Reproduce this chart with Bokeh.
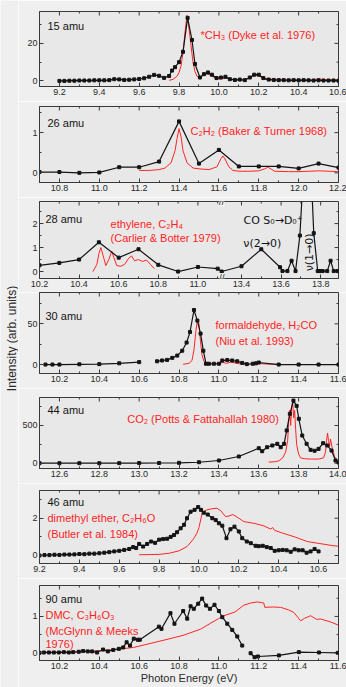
import math
from bokeh.plotting import figure
from bokeh.layouts import column, row
from bokeh.models import (Range1d, FixedTicker, CustomJSTickFormatter,
                          NumeralTickFormatter, Label)
from bokeh.core.properties import value
from bokeh.embed import file_html
from bokeh.resources import INLINE

FONT = "Liberation Sans"
RED = "#ff2424"
BLK = "#141414"
AX = "#3a3a3a"
BORDER_BG = "#efefef"
PLOT_BG = "#e8e8e8"

# ---------------- data ----------------
# 15 amu
P15_X = [9.2, 9.225, 9.25, 9.275, 9.3, 9.325, 9.35, 9.375, 9.4, 9.425,
         9.45, 9.475, 9.5, 9.525, 9.55, 9.575, 9.6, 9.625, 9.65, 9.675,
         9.7, 9.725, 9.75, 9.765, 9.78, 9.8, 9.82, 9.843, 9.865, 9.88,
         9.905, 9.925, 9.945, 9.965, 9.988, 10.01, 10.033, 10.055, 10.08, 10.105,
         10.13, 10.155, 10.177, 10.2, 10.223, 10.25, 10.275, 10.3, 10.325, 10.35,
         10.375, 10.4, 10.425, 10.45, 10.475, 10.5, 10.525, 10.55, 10.575, 10.6]
P15_Y = [0.0, 0.0, 0.1, 0.1, 0.2, 0.2, 0.2, 0.3, 0.3, 0.3,
         0.4, 0.9, 0.8, 0.5, 0.6, 0.8, 1.0, 1.4, 2.2, 3.2,
         2.7, 1.6, 2.6, 5.5, 7.3, 10.0, 15.5, 33.6, 21.8, 9.0,
         1.8, 3.6, 4.5, 3.3, 1.5, 1.8, 2.2, 0.9, 0.5, 0.7,
         0.4, 1.8, 3.3, 3.3, 1.5, 0.7, 0.5, 0.4, 0.4, 0.3,
         0.4, 0.3, 0.4, 0.3, 0.2, 0.3, 0.2, 0.2, 0.2, 0.1]
CH3_X = [9.75, 9.77, 9.79, 9.80, 9.81, 9.82, 9.83, 9.84, 9.85, 9.86,
         9.87, 9.88, 9.89, 9.90, 9.92, 9.94, 9.96, 9.98, 10.00, 10.04,
         10.08, 10.12, 10.15, 10.18, 10.20, 10.23, 10.30, 10.40, 10.47, 10.50,
         10.53, 10.60]
CH3_Y = [0.3, 0.8, 2.5, 4.5, 8, 15, 26, 35, 28, 19,
         10, 5, 2.5, 1.8, 2.8, 3.8, 3.0, 1.5, 1.0, 1.4,
         0.5, 0.5, 1.5, 3.0, 2.8, 0.8, 0.6, 0.3, 0.5, 1.1,
         0.6, 0.6]

# 26 amu
P26_X = [10.7, 10.8, 10.9, 11.0, 11.1, 11.2, 11.3, 11.4, 11.5, 11.6, 11.7, 11.8, 11.9, 12.0, 12.1, 12.2]
P26_Y = [0.02, 0.02, 0.0, 0.01, 0.14, 0.14, 0.28, 1.28, 0.23, 0.57, 0.16, 0.16, 0.16, 0.11, 0.23, 0.13]
C2H2_X = [11.2, 11.25, 11.3, 11.33, 11.36, 11.38, 11.39, 11.40, 11.41, 11.42,
          11.44, 11.47, 11.5, 11.55, 11.59, 11.61, 11.62, 11.63, 11.65, 11.67,
          11.7, 11.75, 11.8, 11.83, 11.845, 11.86, 11.88, 11.95, 12.0, 12.1, 12.2]
C2H2_Y = [0.06, 0.06, 0.08, 0.12, 0.25, 0.55, 0.85, 1.1, 0.9, 0.55,
          0.25, 0.12, 0.1, 0.08, 0.15, 0.35, 0.42, 0.35, 0.15, 0.06,
          0.04, 0.04, 0.05, 0.1, 0.14, 0.1, 0.04, 0.03, 0.03, 0.05, 0.03]

# 28 amu (broken energy axis)
P28_XA = [10.2, 10.3, 10.4, 10.5, 10.6, 10.7, 10.8, 10.9, 11.0, 11.1]
P28_YA = [0.26, 0.36, 0.5, 1.22, 0.58, 0.93, 0.28, 0.0, 0.19, 0.12]
P28_XB = [13.3, 13.4, 13.5, 13.595, 13.607, 13.632, 13.653, 13.673, 13.695, 13.715,
          13.735, 13.75, 13.765, 13.785, 13.795, 13.81, 13.833, 13.85, 13.866, 13.885]
P28_YB = [0.0, 0.22, 0.93, 0.18, 0.02, 0.02, 0.45, 0.02, 1.5, 4.5,
          6.0, 4.5, 1.6, 0.02, 0.02, 0.02, 0.02, 0.45, 0.02, 0.02]
C2H4_X = [10.47, 10.49, 10.5, 10.51, 10.52, 10.535, 10.55, 10.565, 10.575, 10.59,
          10.61, 10.63, 10.65, 10.665, 10.68, 10.7, 10.72, 10.74, 10.76, 10.78]
C2H4_Y = [0.0, 0.3, 0.75, 1.0, 0.7, 0.25, 0.5, 0.85, 0.6, 0.25,
          0.22, 0.3, 0.55, 0.65, 0.45, 0.5, 0.42, 0.48, 0.3, 0.12]
BREAK_LO, BREAK_HI = 11.12, 13.3

# 30 amu
P30_X1 = [10.13, 10.165, 10.2, 10.3, 10.4, 10.5, 10.6]
P30_Y1 = [0, 0, 0, 0.3, 0.5, 1.5, 3.0]
P30_X2 = [10.69, 10.715, 10.74, 10.766, 10.791, 10.816, 10.838, 10.855, 10.875, 10.892,
          10.908, 10.922, 10.935, 10.95, 10.975, 11.0, 11.017, 11.042, 11.067, 11.092,
          11.117, 11.14, 11.17, 11.186, 11.2, 11.3, 11.4, 11.5, 11.6]
P30_Y2 = [4, 5, 5.7, 8.2, 11, 17, 27, 40, 67, 54,
          38, 17, 1, 1, 1, 1, 5, 5.5, 5, 4,
          2, 0.5, 1, 1.5, 2.5, 0, 0, 0, 0]
H2CO_X = [10.82, 10.85, 10.865, 10.875, 10.885, 10.893, 10.9, 10.907, 10.915, 10.925,
          10.94, 10.97, 11.0, 11.02, 11.04, 11.06, 11.08, 11.1, 11.15, 11.2,
          11.25, 11.29]
H2CO_Y = [0.3, 1.5, 5, 18, 42, 56, 50, 30, 12, 4,
          1, 0.5, 1, 2.5, 1.5, 3, 2, 1, 0.5, 1.2,
          0.5, 0.2]

# 44 amu
P44_X = [12.5, 12.6, 12.7, 12.8, 12.9, 13.0, 13.1, 13.2, 13.3, 13.4, 13.5, 13.6,
         13.617, 13.642, 13.668, 13.693, 13.71, 13.727, 13.74, 13.756, 13.774, 13.79,
         13.801, 13.818, 13.84, 13.86, 13.88, 13.9, 13.923, 13.944, 13.965, 13.985, 14.0]
P44_Y = [0, 0, 0, 0, 1, 2, 3, 5, 13, 36, 89, 199,
         159, 212, 235, 257, 212, 257, 434, 655, 830, 760,
         589, 367, 257, 177, 165, 190, 265, 235, 168, 36, 10]
CO2_X = [13.65, 13.68, 13.70, 13.72, 13.735, 13.745, 13.75, 13.755, 13.76, 13.765,
         13.77, 13.775, 13.78, 13.785, 13.79, 13.8, 13.81, 13.83, 13.86, 13.9,
         13.925, 13.935, 13.94, 13.945, 13.95, 13.955, 13.96, 13.97, 13.98, 13.99, 14.0]
CO2_Y = [15, 20, 30, 70, 150, 300, 550, 700, 500, 750,
         820, 600, 700, 450, 250, 120, 70, 60, 55, 55,
         70, 150, 300, 400, 300, 220, 320, 180, 90, 50, 30]

# 46 amu
P46_X = [9.2, 9.225, 9.25, 9.275, 9.3, 9.325, 9.35, 9.375, 9.4, 9.425,
         9.45, 9.475, 9.5, 9.525, 9.55, 9.575, 9.6, 9.625, 9.65, 9.67,
         9.685, 9.7, 9.72, 9.74, 9.76, 9.78, 9.8, 9.82, 9.84, 9.858,
         9.875, 9.89, 9.908, 9.925, 9.94, 9.958, 9.978, 9.996, 10.01, 10.024,
         10.044, 10.067, 10.084, 10.1, 10.117, 10.138, 10.158, 10.178, 10.2, 10.217,
         10.24, 10.26, 10.284, 10.3, 10.32, 10.34, 10.36, 10.38, 10.4, 10.42,
         10.44, 10.46, 10.48, 10.5, 10.52, 10.54, 10.56, 10.58, 10.6]
P46_Y = [0.0, 0.02, 0.02, 0.04, 0.03, 0.05, 0.05, 0.06, 0.08, 0.07,
         0.1, 0.1, 0.12, 0.15, 0.18, 0.22, 0.25, 0.3, 0.35, 0.45,
         0.4, 0.62, 0.48, 0.62, 0.75, 0.68, 0.85, 0.88, 0.9, 1.0,
         1.1, 1.25, 1.46, 1.65, 2.0, 2.35, 2.45, 2.6, 2.45, 2.3,
         2.2, 2.0, 1.9, 1.73, 1.6, 0.93, 1.41, 1.55, 1.29, 0.93,
         0.75, 0.66, 0.52, 0.5, 0.52, 0.45, 0.4, 0.25, 0.28, 0.3,
         0.28, 0.2, 0.33, 0.28, 0.28, 0.15, 0.22, 0.35, 0.22]
DME_X = [9.7, 9.8, 9.85, 9.9, 9.94, 9.97, 9.99, 10.0, 10.016, 10.03,
         10.04, 10.06, 10.09, 10.11, 10.133, 10.15, 10.17, 10.2, 10.225, 10.28,
         10.325, 10.36, 10.37, 10.38, 10.42, 10.48, 10.543, 10.6, 10.677, 10.7]
DME_Y = [0.04, 0.06, 0.12, 0.25, 0.48, 0.85, 1.2, 1.5, 2.27, 2.4,
         2.45, 2.5, 2.54, 2.4, 2.09, 2.12, 2.2, 2.0, 1.82, 1.72,
         1.59, 1.42, 1.5, 1.35, 1.2, 1.0, 0.75, 0.65, 0.52, 0.5]

# 90 amu
P90_X1 = [10.1, 10.122, 10.147, 10.172, 10.197, 10.222, 10.247, 10.269, 10.297, 10.319,
          10.342, 10.364, 10.389, 10.419, 10.443, 10.47, 10.498, 10.52, 10.537, 10.554,
          10.573, 10.593, 10.603, 10.699, 10.712, 10.757, 10.777, 10.821, 10.841, 10.858,
          10.874, 10.896, 10.916, 10.936, 10.955, 10.978, 11.0, 11.017, 11.042, 11.067,
          11.092, 11.117]
P90_Y1 = [0, 0.01, 0.01, 0.01, 0.01, 0.02, 0.01, 0.02, 0.03, 0.05,
          0.04, 0.04, 0.01, 0.09, 0.04, 0.08, 0.11, 0.15, 0.29, 0.2,
          0.39, 0.36, 0.36, 0.72, 0.66, 1.09, 0.8, 1.15, 0.94, 1.28,
          1.21, 1.35, 1.49, 1.3, 1.21, 1.32, 1.15, 0.98, 0.8, 0.63,
          0.45, 0.2]
P90_X2 = [11.159, 11.179, 11.196, 11.301, 11.401, 11.502, 11.597]
P90_Y2 = [-0.01, -0.12, -0.1, -0.07, 0.02, 0.01, 0.0]
DMC_X = [10.1, 10.2, 10.3, 10.406, 10.5, 10.573, 10.65, 10.74, 10.82, 10.908,
         10.96, 11.025, 11.08, 11.125, 11.16, 11.192, 11.215, 11.225, 11.23, 11.27,
         11.31, 11.35, 11.376, 11.41, 11.43, 11.46, 11.49, 11.51, 11.56, 11.6]
DMC_Y = [0.02, 0.02, 0.03, 0.06, 0.1, 0.15, 0.25, 0.37, 0.48, 0.65,
         0.82, 1.02, 1.12, 1.31, 1.37, 1.4, 1.38, 1.37, 1.25, 1.26,
         1.25, 1.18, 1.11, 0.88, 0.95, 1.02, 0.92, 0.93, 0.85, 0.76]

NAN = float("nan")


def squeeze(xs):
    gap = BREAK_HI - BREAK_LO
    return [x if x <= BREAK_LO + 1e-9 else x - gap for x in xs]


def ticks(a, b, step):
    n = int(round((b - a) / step))
    return [round(a + i * step, 3) for i in range(n + 1)]


def style_axis(ax):
    ax.axis_line_color = AX
    ax.major_tick_in = 4
    ax.major_tick_out = 0
    ax.minor_tick_in = 2
    ax.minor_tick_out = 0
    ax.major_tick_line_color = AX
    ax.minor_tick_line_color = AX
    ax.major_label_text_font = FONT
    ax.major_label_text_color = "#2a2a2a"
    ax.major_label_text_font_size = "9px"
    ax.major_label_standoff = 2


def panel(height, top, bottom, xr, yr, yt, ymt, xt, xmt, xfmt=None):
    p = figure(width=328, height=height, x_range=Range1d(*xr), y_range=Range1d(*yr),
               output_backend="svg", toolbar_location=None,
               min_border_left=21, min_border_right=8,
               min_border_top=top, min_border_bottom=bottom)
    p.background_fill_color = PLOT_BG
    p.border_fill_color = BORDER_BG
    p.outline_line_color = AX
    p.xgrid.visible = False
    p.ygrid.visible = False
    p.xaxis.ticker = FixedTicker(ticks=xt, minor_ticks=xmt)
    p.yaxis.ticker = FixedTicker(ticks=yt, minor_ticks=ymt)
    p.xaxis.formatter = xfmt if xfmt is not None else NumeralTickFormatter(format="0.0")
    style_axis(p.xaxis[0])
    style_axis(p.yaxis[0])
    # mirrored inward ticks on the top and right frame edges (half of each dash is clipped)
    p.scatter(xt, [yr[1]] * len(xt), marker="dash", angle=math.pi / 2, size=8,
              line_color=AX, line_width=1)
    p.scatter(xmt, [yr[1]] * len(xmt), marker="dash", angle=math.pi / 2, size=4,
              line_color=AX, line_width=1)
    p.scatter([xr[1]] * len(yt), yt, marker="dash", size=8, line_color=AX, line_width=1)
    p.scatter([xr[1]] * len(ymt), ymt, marker="dash", size=4, line_color=AX, line_width=1)
    return p


def black(p, xs, ys):
    p.line(xs, ys, line_color=BLK, line_width=1.2)
    p.scatter(xs, ys, marker="square", size=3.0, fill_color=BLK, line_color=BLK)


def red(p, xs, ys):
    p.line(xs, ys, line_color=RED, line_width=1.0)


def note(p, x, y, text, color=BLK, angle=0.0, align="left", font=FONT):
    p.add_layout(Label(x=x, y=y, text=text, text_font=font, text_font_size="11px",
                       text_color=color, text_align=align, text_baseline="middle",
                       angle=angle))


# ---------------- panels ----------------
p1 = panel(101, 11, 15, (9.1, 10.6), (-3, 37), [0, 20], [10, 30],
           ticks(9.2, 10.6, 0.2), ticks(9.1, 10.5, 0.2))
red(p1, CH3_X, CH3_Y)
black(p1, P15_X, P15_Y)
note(p1, 9.14, 29.5, "15 amu")
note(p1, 9.908, 24.7, "*CH₃ (Dyke et al. 1976)", RED)

p2 = panel(96, 5, 15, (10.7, 12.2), (-0.24, 1.65), [0, 1], [0.5, 1.5],
           ticks(10.8, 12.2, 0.2), ticks(10.7, 12.1, 0.2))
red(p2, C2H2_X, C2H2_Y)
black(p2, P26_X, P26_Y)
note(p2, 10.74, 1.23, "26 amu")
note(p2, 11.458, 1.05, "C₂H₂ (Baker & Turner 1968)", RED)

x28_major = squeeze(ticks(10.2, 11.0, 0.2) + ticks(13.4, 13.8, 0.2))
x28_minor = squeeze(ticks(10.3, 11.1, 0.2) + ticks(13.5, 13.7, 0.2))
fmt28 = CustomJSTickFormatter(args=dict(lo=BREAK_LO, gap=BREAK_HI - BREAK_LO),
                              code="const v = tick > lo + 1e-6 ? tick + gap : tick; return v.toFixed(1);")
x28_end = BREAK_LO + (13.89 - BREAK_HI)
p3 = panel(95, 4, 14, (10.2, x28_end), (-0.29, 2.92), [0, 1, 2], [0.5, 1.5, 2.5],
           x28_major, x28_minor, fmt28)
red(p3, C2H4_X, C2H4_Y)
black(p3, squeeze(P28_XA + P28_XB), P28_YA + P28_YB)
note(p3, 10.23, 2.2, "28 amu")
note(p3, 10.559, 2.0, "ethylene, C₂H₄", RED)
note(p3, 10.559, 1.38, "(Carlier & Botter 1979)", RED)
note(p3, squeeze([13.41])[0], 2.14, "CO S₀→D₀⁺", font="DejaVu Sans")
note(p3, squeeze([13.505])[0], 1.17, "ν(2→0)", align="center", font="DejaVu Sans")
note(p3, squeeze([13.742])[0], 0.8, "ν(1→0)", angle=math.pi / 2, align="center",
     font="DejaVu Sans")
for yb in (-0.29, 2.92):
    p3.add_layout(Label(x=BREAK_LO, y=yb, text="//", text_font=FONT, text_font_size="10px",
                        text_color=AX, text_align="center", text_baseline="middle",
                        background_fill_color=BORDER_BG))

p4 = panel(96, 0, 15, (10.1, 11.6), (-11, 88.5), [0, 50], [25, 75],
           ticks(10.2, 11.6, 0.2), ticks(10.1, 11.5, 0.2))
red(p4, H2CO_X, H2CO_Y)
black(p4, P30_X1 + [NAN] + P30_X2, P30_Y1 + [NAN] + P30_Y2)
note(p4, 10.13, 60, "30 amu")
note(p4, 10.983, 48, "formaldehyde, H₂CO", RED)
note(p4, 10.983, 28.7, "(Niu et al. 1993)", RED)

p5 = panel(95, 9, 15, (12.5, 14.0), (-70, 871), [0, 500], [250, 750],
           ticks(12.6, 14.0, 0.2), ticks(12.5, 13.9, 0.2))
red(p5, CO2_X, CO2_Y)
black(p5, P44_X, P44_Y)
note(p5, 12.54, 699, "44 amu")
note(p5, 12.94, 588, "CO₂ (Potts & Fattahallah 1980)", RED)

p6 = panel(95, 7, 15, (9.2, 10.7), (-0.43, 3.49), [0, 2], [1, 3],
           ticks(9.2, 10.6, 0.2), ticks(9.3, 10.7, 0.2))
red(p6, DME_X, DME_Y)
black(p6, P46_X, P46_Y)
note(p6, 9.24, 2.89, "46 amu")
note(p6, 9.24, 2.0, "dimethyl ether, C₂H₆O", RED)
note(p6, 9.24, 1.16, "(Butler et al. 1984)", RED)

p7 = panel(109, 7, 27, (10.1, 11.6), (-0.21, 1.85), [0, 1], [0.5, 1.5],
           ticks(10.2, 11.6, 0.2), ticks(10.1, 11.5, 0.2))
red(p7, DMC_X, DMC_Y)
black(p7, P90_X1 + [NAN] + P90_X2, P90_Y1 + [NAN] + P90_Y2)
note(p7, 10.13, 1.49, "90 amu")
note(p7, 10.13, 1.03, "DMC, C₃H₆O₃", RED)
note(p7, 10.13, 0.61, "(McGlynn & Meeks", RED)
note(p7, 10.13, 0.25, "1976)", RED)
xa = p7.below[0]
xa.axis_label = "Photon Energy (eV)"
xa.axis_label_text_font = FONT
xa.axis_label_text_font_size = "11px"
xa.axis_label_text_font_style = "normal"
xa.axis_label_text_color = "#2a2a2a"
xa.axis_label_standoff = 0

# y-axis title strip
lab = figure(width=18, height=687, x_range=Range1d(0, 18), y_range=Range1d(0, 687),
             output_backend="svg", toolbar_location=None, min_border=0,
             x_axis_location=None, y_axis_location=None)
lab.xgrid.visible = False
lab.ygrid.visible = False
lab.outline_line_color = None
lab.background_fill_color = BORDER_BG
lab.border_fill_color = BORDER_BG
lab.text(x=[11], y=[687 - 338], text=["Intensity (arb. units)"], angle=math.pi / 2,
         text_align="center", text_baseline="middle", text_font=value(FONT),
         text_font_size="12px", text_color="#2a2a2a")

layout = row(lab, column(p1, p2, p3, p4, p5, p6, p7, spacing=0), spacing=0)
open("out.html", "w").write(file_html(layout, INLINE))
